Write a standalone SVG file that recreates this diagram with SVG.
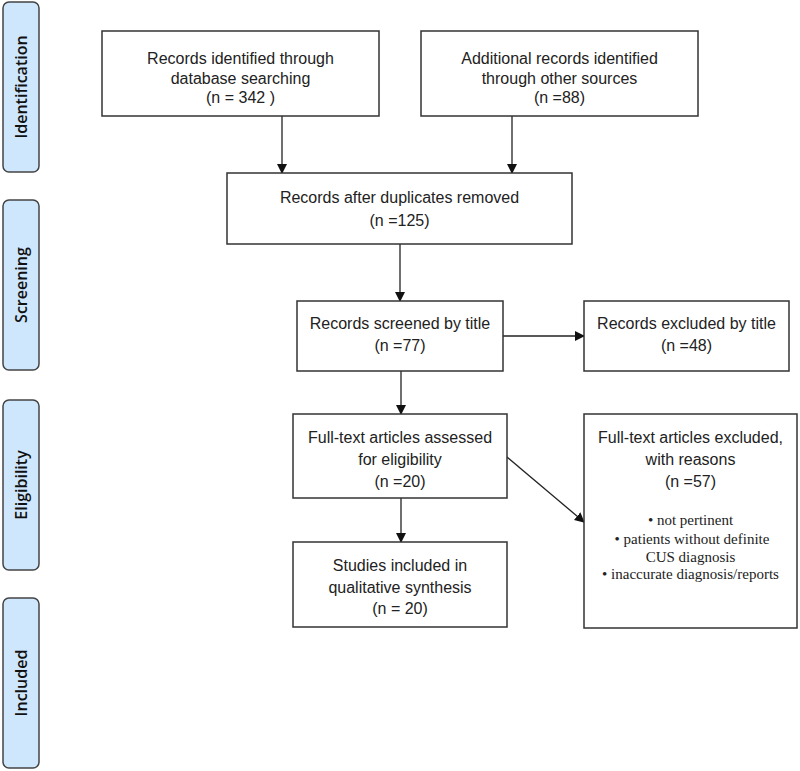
<svg xmlns="http://www.w3.org/2000/svg" width="800" height="771" viewBox="0 0 800 771">
<style>
.tab{fill:#cfe7fd;stroke:#444;stroke-width:1.5}
.tl{font-family:"Open Sans","Noto Sans",sans-serif;font-weight:600;font-size:16px;fill:#111;text-anchor:middle}
.box{fill:#fff;stroke:#333;stroke-width:1.5}
.t{font-family:"Liberation Sans",Arial,sans-serif;font-size:16px;fill:#222;text-anchor:middle}
.s{font-family:"Liberation Serif","Times New Roman",serif;font-size:15px;fill:#222;text-anchor:middle}
.c{stroke:#222;stroke-width:1.3;fill:none;marker-end:url(#ah)}
</style>
<defs>
<marker id="ah" markerWidth="10" markerHeight="10" refX="9" refY="5" orient="auto" markerUnits="userSpaceOnUse">
<path d="M0,0 L10,5 L0,10 z" fill="#111"/>
</marker>
</defs>
<rect width="800" height="771" fill="#fff"/>
<g id="tab-identification"><rect class="tab" x="3" y="2" width="36" height="170" rx="6"/><text class="tl" transform="translate(27,87) rotate(-90)">Identification</text></g>
<g id="tab-screening"><rect class="tab" x="3" y="200" width="36" height="170" rx="6"/><text class="tl" transform="translate(27,285) rotate(-90)">Screening</text></g>
<g id="tab-eligibility"><rect class="tab" x="3" y="400" width="36" height="170" rx="6"/><text class="tl" transform="translate(27,485) rotate(-90)">Eligibility</text></g>
<g id="tab-included"><rect class="tab" x="3" y="598" width="36" height="170" rx="6"/><text class="tl" transform="translate(27,683) rotate(-90)">Included</text></g>

<g id="connectors">
<line class="c" x1="282" y1="116" x2="282" y2="173"/>
<line class="c" x1="512" y1="116" x2="512" y2="173"/>
<line class="c" x1="400" y1="244" x2="400" y2="301"/>
<line class="c" x1="503" y1="336" x2="584" y2="336"/>
<line class="c" x1="401" y1="371" x2="401" y2="414"/>
<line class="c" x1="401" y1="498" x2="401" y2="542"/>
<line class="c" x1="507" y1="457" x2="584" y2="522"/>
</g>

<g id="box-db"><rect class="box" x="102" y="31" width="277" height="85"/>
<text class="t" x="240.5" y="64">Records identified through</text>
<text class="t" x="240.5" y="84">database searching</text>
<text class="t" x="240.5" y="103">(n = 342 )</text></g>
<g id="box-other"><rect class="box" x="421" y="31" width="277" height="85"/>
<text class="t" x="559.5" y="64">Additional records identified</text>
<text class="t" x="559.5" y="84">through other sources</text>
<text class="t" x="559.5" y="103">(n =88)</text></g>
<g id="box-dup"><rect class="box" x="227" y="173" width="345" height="71"/>
<text class="t" x="399.5" y="203">Records after duplicates removed</text>
<text class="t" x="399.5" y="226">(n =125)</text></g>
<g id="box-screened"><rect class="box" x="297" y="301" width="206" height="70"/>
<text class="t" x="400" y="329">Records screened by title</text>
<text class="t" x="400" y="351">(n =77)</text></g>
<g id="box-excluded-title"><rect class="box" x="584" y="301" width="205" height="70"/>
<text class="t" x="686.5" y="329">Records excluded by title</text>
<text class="t" x="686.5" y="351">(n =48)</text></g>
<g id="box-fulltext"><rect class="box" x="293" y="414" width="214" height="84"/>
<text class="t" x="400" y="443">Full-text articles assessed</text>
<text class="t" x="400" y="465">for eligibility</text>
<text class="t" x="400" y="487">(n =20)</text></g>
<g id="box-excluded-full"><rect class="box" x="584" y="414" width="213" height="214"/>
<text class="t" x="690.5" y="443">Full-text articles excluded,</text>
<text class="t" x="690.5" y="465">with reasons</text>
<text class="t" x="690.5" y="487">(n =57)</text>
<text class="s" x="690.5" y="525">• not pertinent</text>
<text class="s" x="692" y="544">• patients without definite</text>
<text class="s" x="690.5" y="562">CUS diagnosis</text>
<text class="s" x="690.5" y="579">• inaccurate diagnosis/reports</text></g>
<g id="box-included"><rect class="box" x="293" y="542" width="214" height="85"/>
<text class="t" x="400" y="571">Studies included in</text>
<text class="t" x="400" y="593">qualitative synthesis</text>
<text class="t" x="400" y="614">(n = 20)</text></g>
</svg>
